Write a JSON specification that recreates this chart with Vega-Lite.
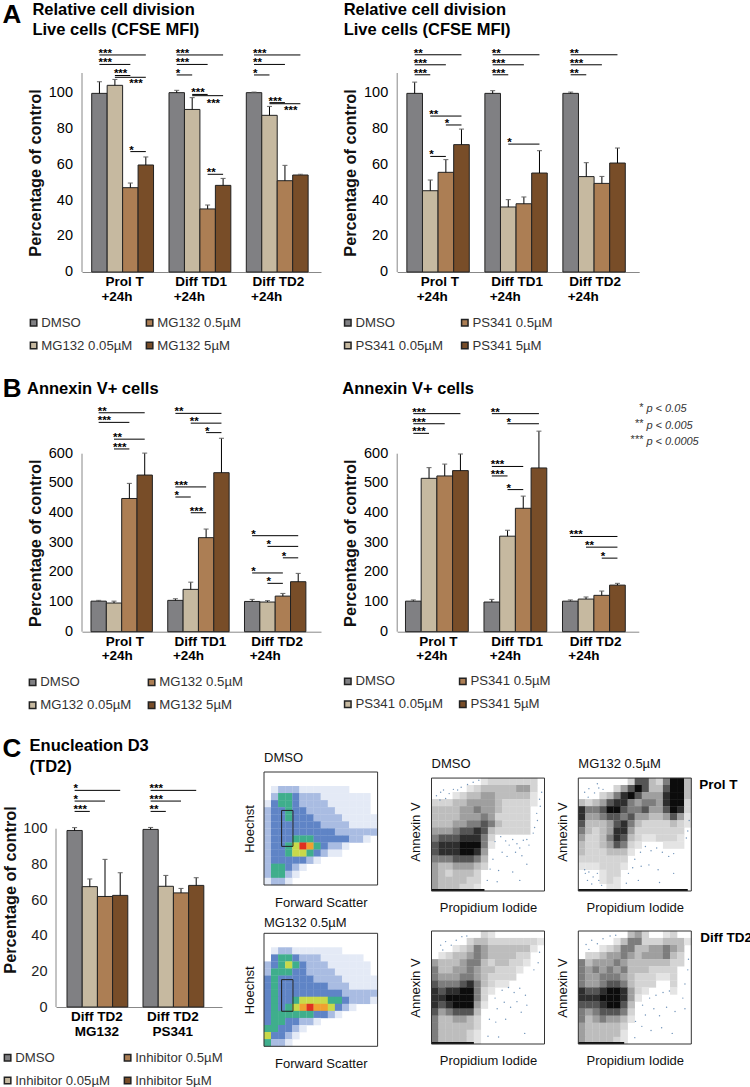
{"$schema":"https://vega.github.io/schema/vega-lite/v6.json","padding":{"left":1,"top":2,"right":0,"bottom":0},"bounds":"flush","spacing":699,"resolve":{"scale":{"color":"independent"}},
"config":{"font":"Liberation Sans","view":{"stroke":null},"axis":{"grid":false,"ticks":false,"labelOverlap":false,"labelFontSize":14.5,"labelColor":"#222","titleFontSize":16.3,"titleFontWeight":"bold","titleColor":"#111","domainColor":"#888","labelPadding":9,"titlePadding":3},"axisX":{"labels":false},"title":{"anchor":"start","frame":"group","fontSize":16.5,"fontWeight":"bold","color":"#111","lineHeight":20},"legend":{"orient":"none","columns":2,"direction":"vertical","symbolType":"square","symbolSize":42,"labelFontSize":13.2,"labelColor":"#333","labelOffset":1,"rowPadding":9,"columnPadding":10},"style":{"err":{"stroke":"#666","strokeWidth":1},"sig":{"stroke":"#555","strokeWidth":1},"star":{"fontSize":11.5,"align":"left","dx":-1,"dy":2,"baseline":"alphabetic","fontWeight":"bold","fill":"#333"},"xl":{"fontSize":13.5,"fontWeight":"bold","align":"left","baseline":"middle","fill":"#111"},"yl":{"fontSize":14.5,"align":"right","baseline":"middle","dx":-9,"fill":"#222"},"ttl":{"fontSize":16.5,"fontWeight":"bold","align":"left","baseline":"middle","fill":"#111"},"letter":{"fontSize":26,"fontWeight":"bold","align":"left","baseline":"middle","fill":"#111"},"dots":{"fill":"#222","size":2,"opacity":0.8}}},
"datasets":{
"a1":[{"s":"P0","c":"DMSO","v":100,"h":106.5},{"s":"P1","c":"MG132 0.05µM","v":104.5,"h":107.8},{"s":"P2","c":"MG132 0.5µM","v":47.2,"h":49.8},{"s":"P3","c":"MG132 5µM","v":59.9,"h":64.4},{"s":"D0","c":"DMSO","v":100.4,"h":101.7},{"s":"D1","c":"MG132 0.05µM","v":91,"h":97.6},{"s":"D2","c":"MG132 0.5µM","v":35.3,"h":37.5},{"s":"D3","c":"MG132 5µM","v":48.5,"h":52.4},{"s":"T0","c":"DMSO","v":100.4,"h":100.7},{"s":"T1","c":"MG132 0.05µM","v":87.7,"h":92.7},{"s":"T2","c":"MG132 0.5µM","v":51.1,"h":59.7},{"s":"T3","c":"MG132 5µM","v":54.3,"h":54.7}],
"a2":[{"s":"P0","c":"DMSO","v":100,"h":106.3},{"s":"P1","c":"PS341 0.05µM","v":45.5,"h":51.5},{"s":"P2","c":"PS341 0.5µM","v":55.8,"h":62.9},{"s":"P3","c":"PS341 5µM","v":71.3,"h":80},{"s":"D0","c":"DMSO","v":100,"h":101.5},{"s":"D1","c":"PS341 0.05µM","v":36.4,"h":40.5},{"s":"D2","c":"PS341 0.5µM","v":38.2,"h":42},{"s":"D3","c":"PS341 5µM","v":55.4,"h":67.9},{"s":"T0","c":"DMSO","v":100,"h":100.7},{"s":"T1","c":"PS341 0.05µM","v":53.4,"h":61.2},{"s":"T2","c":"PS341 0.5µM","v":49.6,"h":53.5},{"s":"T3","c":"PS341 5µM","v":61,"h":69.4}],
"b1":[{"s":"P0","c":"DMSO","v":103,"h":105.6},{"s":"P1","c":"MG132 0.05µM","v":96.6,"h":103},{"s":"P2","c":"MG132 0.5µM","v":449,"h":500},{"s":"P3","c":"MG132 5µM","v":528,"h":602},{"s":"D0","c":"DMSO","v":105.6,"h":111},{"s":"D1","c":"MG132 0.05µM","v":142.7,"h":167},{"s":"D2","c":"MG132 0.5µM","v":317,"h":346},{"s":"D3","c":"MG132 5µM","v":536,"h":652},{"s":"T0","c":"DMSO","v":102,"h":109},{"s":"T1","c":"MG132 0.05µM","v":100,"h":104.5},{"s":"T2","c":"MG132 0.5µM","v":120,"h":129},{"s":"T3","c":"MG132 5µM","v":168.5,"h":196.6}],
"b2":[{"s":"P0","c":"DMSO","v":103,"h":107},{"s":"P1","c":"PS341 0.05µM","v":517,"h":553},{"s":"P2","c":"PS341 0.5µM","v":525,"h":565},{"s":"P3","c":"PS341 5µM","v":543,"h":599},{"s":"D0","c":"DMSO","v":100,"h":109},{"s":"D1","c":"PS341 0.05µM","v":322,"h":342},{"s":"D2","c":"PS341 0.5µM","v":416,"h":457},{"s":"D3","c":"PS341 5µM","v":552,"h":676},{"s":"T0","c":"DMSO","v":103,"h":107},{"s":"T1","c":"PS341 0.05µM","v":110,"h":117},{"s":"T2","c":"PS341 0.5µM","v":122.5,"h":137},{"s":"T3","c":"PS341 5µM","v":157,"h":163}],
"c1":[{"s":"M0","c":"DMSO","v":99,"h":100.6},{"s":"M1","c":"Inhibitor 0.05µM","v":67.5,"h":71.8},{"s":"M2","c":"Inhibitor 0.5µM","v":62,"h":82.8},{"s":"M3","c":"Inhibitor 5µM","v":62.6,"h":75.3},{"s":"S0","c":"DMSO","v":99.6,"h":100.7},{"s":"S1","c":"Inhibitor 0.05µM","v":67.7,"h":73.8},{"s":"S2","c":"Inhibitor 0.5µM","v":64,"h":66.5},{"s":"S3","c":"Inhibitor 5µM","v":68.2,"h":72.5}],
"xl":[{"t":"P0","s":"Prol T","l":"p1"},{"t":"P0","s":"+24h","l":"p2"},{"t":"D0","s":"Diff TD1","l":"d1"},{"t":"T0","s":"Diff TD2","l":"d1"},{"t":"D0","s":"+24h","l":"d2"},{"t":"T0","s":"+24h","l":"d2"}],
"ya":[{"y":0},{"y":20},{"y":40},{"y":60},{"y":80},{"y":100}],
"yb":[{"y":0},{"y":100},{"y":200},{"y":300},{"y":400},{"y":500},{"y":600}],
"f1":[{"x":1,"y":2,"v":1},{"x":2,"y":2,"v":2},{"x":3,"y":2,"v":2},{"x":4,"y":2,"v":2},{"x":5,"y":2,"v":1},{"x":6,"y":2,"v":1},{"x":7,"y":2,"v":1},{"x":8,"y":2,"v":1},{"x":9,"y":2,"v":1},{"x":10,"y":2,"v":1},{"x":11,"y":2,"v":1},
{"x":1,"y":3,"v":2},{"x":2,"y":3,"v":4},{"x":3,"y":3,"v":4},{"x":4,"y":3,"v":3},{"x":5,"y":3,"v":2},{"x":6,"y":3,"v":2},{"x":7,"y":3,"v":2},{"x":8,"y":3,"v":1},{"x":9,"y":3,"v":1},{"x":10,"y":3,"v":1},{"x":11,"y":3,"v":1},{"x":12,"y":3,"v":1},{"x":13,"y":3,"v":1},{"x":14,"y":3,"v":1},
{"x":0,"y":4,"v":1},{"x":1,"y":4,"v":3},{"x":2,"y":4,"v":4},{"x":3,"y":4,"v":4},{"x":4,"y":4,"v":3},{"x":5,"y":4,"v":2},{"x":6,"y":4,"v":2},{"x":7,"y":4,"v":2},{"x":8,"y":4,"v":2},{"x":9,"y":4,"v":1},{"x":10,"y":4,"v":1},{"x":11,"y":4,"v":1},{"x":12,"y":4,"v":1},{"x":13,"y":4,"v":1},{"x":14,"y":4,"v":1},
{"x":0,"y":5,"v":2},{"x":1,"y":5,"v":3},{"x":2,"y":5,"v":3},{"x":3,"y":5,"v":4},{"x":4,"y":5,"v":3},{"x":5,"y":5,"v":3},{"x":6,"y":5,"v":2},{"x":7,"y":5,"v":2},{"x":8,"y":5,"v":2},{"x":9,"y":5,"v":2},{"x":10,"y":5,"v":1},{"x":11,"y":5,"v":1},{"x":12,"y":5,"v":1},{"x":13,"y":5,"v":1},{"x":14,"y":5,"v":1},
{"x":0,"y":6,"v":2},{"x":1,"y":6,"v":3},{"x":2,"y":6,"v":3},{"x":3,"y":6,"v":4},{"x":4,"y":6,"v":3},{"x":5,"y":6,"v":3},{"x":6,"y":6,"v":3},{"x":7,"y":6,"v":2},{"x":8,"y":6,"v":2},{"x":9,"y":6,"v":2},{"x":10,"y":6,"v":2},{"x":11,"y":6,"v":1},{"x":12,"y":6,"v":1},{"x":13,"y":6,"v":1},{"x":14,"y":6,"v":1},{"x":15,"y":6,"v":1},
{"x":0,"y":7,"v":2},{"x":1,"y":7,"v":3},{"x":2,"y":7,"v":3},{"x":3,"y":7,"v":3},{"x":4,"y":7,"v":3},{"x":5,"y":7,"v":3},{"x":6,"y":7,"v":3},{"x":7,"y":7,"v":3},{"x":8,"y":7,"v":2},{"x":9,"y":7,"v":2},{"x":10,"y":7,"v":2},{"x":11,"y":7,"v":2},{"x":12,"y":7,"v":1},{"x":13,"y":7,"v":1},{"x":14,"y":7,"v":1},{"x":15,"y":7,"v":1},
{"x":0,"y":8,"v":2},{"x":1,"y":8,"v":3},{"x":2,"y":8,"v":3},{"x":3,"y":8,"v":3},{"x":4,"y":8,"v":3},{"x":5,"y":8,"v":3},{"x":6,"y":8,"v":3},{"x":7,"y":8,"v":3},{"x":8,"y":8,"v":3},{"x":9,"y":8,"v":3},{"x":10,"y":8,"v":2},{"x":11,"y":8,"v":2},{"x":12,"y":8,"v":2},{"x":13,"y":8,"v":2},{"x":14,"y":8,"v":2},{"x":15,"y":8,"v":2},
{"x":0,"y":9,"v":2},{"x":1,"y":9,"v":3},{"x":2,"y":9,"v":3},{"x":3,"y":9,"v":3},{"x":4,"y":9,"v":4},{"x":5,"y":9,"v":4},{"x":6,"y":9,"v":4},{"x":7,"y":9,"v":3},{"x":8,"y":9,"v":3},{"x":9,"y":9,"v":3},{"x":10,"y":9,"v":3},{"x":11,"y":9,"v":3},{"x":12,"y":9,"v":2},{"x":13,"y":9,"v":2},{"x":14,"y":9,"v":1},
{"x":0,"y":10,"v":2},{"x":1,"y":10,"v":3},{"x":2,"y":10,"v":3},{"x":3,"y":10,"v":4},{"x":4,"y":10,"v":5},{"x":5,"y":10,"v":7},{"x":6,"y":10,"v":6},{"x":7,"y":10,"v":4},{"x":8,"y":10,"v":3},{"x":9,"y":10,"v":2},{"x":10,"y":10,"v":2},{"x":11,"y":10,"v":1},
{"x":0,"y":11,"v":2},{"x":1,"y":11,"v":3},{"x":2,"y":11,"v":3},{"x":3,"y":11,"v":4},{"x":4,"y":11,"v":5},{"x":5,"y":11,"v":5},{"x":6,"y":11,"v":4},{"x":7,"y":11,"v":3},{"x":8,"y":11,"v":2},{"x":9,"y":11,"v":1},{"x":10,"y":11,"v":1},
{"x":0,"y":12,"v":2},{"x":1,"y":12,"v":3},{"x":2,"y":12,"v":3},{"x":3,"y":12,"v":3},{"x":4,"y":12,"v":3},{"x":5,"y":12,"v":3},{"x":6,"y":12,"v":2},{"x":7,"y":12,"v":1},
{"x":0,"y":13,"v":2},{"x":1,"y":13,"v":4},{"x":2,"y":13,"v":4},{"x":3,"y":13,"v":3},{"x":4,"y":13,"v":2},{"x":5,"y":13,"v":1},
{"x":0,"y":14,"v":2},{"x":1,"y":14,"v":4},{"x":2,"y":14,"v":4},{"x":3,"y":14,"v":2},{"x":4,"y":14,"v":1},
{"x":0,"y":15,"v":1},{"x":1,"y":15,"v":2},{"x":2,"y":15,"v":2},{"x":3,"y":15,"v":1}],
"f2":[{"x":1,"y":2,"v":1},{"x":2,"y":2,"v":2},{"x":3,"y":2,"v":2},{"x":4,"y":2,"v":1},{"x":5,"y":2,"v":1},{"x":6,"y":2,"v":1},{"x":7,"y":2,"v":1},{"x":8,"y":2,"v":1},{"x":9,"y":2,"v":1},{"x":10,"y":2,"v":1},
{"x":1,"y":3,"v":3},{"x":2,"y":3,"v":4},{"x":3,"y":3,"v":4},{"x":4,"y":3,"v":3},{"x":5,"y":3,"v":2},{"x":6,"y":3,"v":2},{"x":7,"y":3,"v":2},{"x":8,"y":3,"v":1},{"x":9,"y":3,"v":1},{"x":10,"y":3,"v":1},{"x":11,"y":3,"v":1},{"x":12,"y":3,"v":1},{"x":13,"y":3,"v":1},
{"x":0,"y":4,"v":2},{"x":1,"y":4,"v":3},{"x":2,"y":4,"v":4},{"x":3,"y":4,"v":5},{"x":4,"y":4,"v":4},{"x":5,"y":4,"v":3},{"x":6,"y":4,"v":2},{"x":7,"y":4,"v":2},{"x":8,"y":4,"v":2},{"x":9,"y":4,"v":1},{"x":10,"y":4,"v":1},{"x":11,"y":4,"v":1},{"x":12,"y":4,"v":1},{"x":13,"y":4,"v":1},{"x":14,"y":4,"v":1},
{"x":0,"y":5,"v":2},{"x":1,"y":5,"v":4},{"x":2,"y":5,"v":4},{"x":3,"y":5,"v":4},{"x":4,"y":5,"v":3},{"x":5,"y":5,"v":3},{"x":6,"y":5,"v":2},{"x":7,"y":5,"v":2},{"x":8,"y":5,"v":2},{"x":9,"y":5,"v":2},{"x":10,"y":5,"v":1},{"x":11,"y":5,"v":1},{"x":12,"y":5,"v":1},{"x":13,"y":5,"v":1},{"x":14,"y":5,"v":1},
{"x":0,"y":6,"v":3},{"x":1,"y":6,"v":4},{"x":2,"y":6,"v":3},{"x":3,"y":6,"v":3},{"x":4,"y":6,"v":3},{"x":5,"y":6,"v":3},{"x":6,"y":6,"v":3},{"x":7,"y":6,"v":2},{"x":8,"y":6,"v":2},{"x":9,"y":6,"v":2},{"x":10,"y":6,"v":2},{"x":11,"y":6,"v":1},{"x":12,"y":6,"v":1},{"x":13,"y":6,"v":1},{"x":14,"y":6,"v":1},{"x":15,"y":6,"v":1},
{"x":0,"y":7,"v":3},{"x":1,"y":7,"v":4},{"x":2,"y":7,"v":3},{"x":3,"y":7,"v":3},{"x":4,"y":7,"v":3},{"x":5,"y":7,"v":3},{"x":6,"y":7,"v":3},{"x":7,"y":7,"v":3},{"x":8,"y":7,"v":3},{"x":9,"y":7,"v":2},{"x":10,"y":7,"v":2},{"x":11,"y":7,"v":2},{"x":12,"y":7,"v":1},{"x":13,"y":7,"v":1},{"x":14,"y":7,"v":1},{"x":15,"y":7,"v":1},
{"x":0,"y":8,"v":3},{"x":1,"y":8,"v":4},{"x":2,"y":8,"v":3},{"x":3,"y":8,"v":3},{"x":4,"y":8,"v":3},{"x":5,"y":8,"v":3},{"x":6,"y":8,"v":3},{"x":7,"y":8,"v":3},{"x":8,"y":8,"v":3},{"x":9,"y":8,"v":3},{"x":10,"y":8,"v":3},{"x":11,"y":8,"v":2},{"x":12,"y":8,"v":2},{"x":13,"y":8,"v":2},{"x":14,"y":8,"v":2},{"x":15,"y":8,"v":2},
{"x":0,"y":9,"v":3},{"x":1,"y":9,"v":4},{"x":2,"y":9,"v":3},{"x":3,"y":9,"v":3},{"x":4,"y":9,"v":4},{"x":5,"y":9,"v":5},{"x":6,"y":9,"v":5},{"x":7,"y":9,"v":5},{"x":8,"y":9,"v":5},{"x":9,"y":9,"v":4},{"x":10,"y":9,"v":4},{"x":11,"y":9,"v":3},{"x":12,"y":9,"v":2},{"x":13,"y":9,"v":2},{"x":14,"y":9,"v":2},{"x":15,"y":9,"v":1},
{"x":0,"y":10,"v":3},{"x":1,"y":10,"v":4},{"x":2,"y":10,"v":3},{"x":3,"y":10,"v":4},{"x":4,"y":10,"v":5},{"x":5,"y":10,"v":6},{"x":6,"y":10,"v":7},{"x":7,"y":10,"v":6},{"x":8,"y":10,"v":6},{"x":9,"y":10,"v":5},{"x":10,"y":10,"v":3},{"x":11,"y":10,"v":2},{"x":12,"y":10,"v":1},
{"x":0,"y":11,"v":3},{"x":1,"y":11,"v":4},{"x":2,"y":11,"v":4},{"x":3,"y":11,"v":4},{"x":4,"y":11,"v":4},{"x":5,"y":11,"v":4},{"x":6,"y":11,"v":4},{"x":7,"y":11,"v":3},{"x":8,"y":11,"v":3},{"x":9,"y":11,"v":2},{"x":10,"y":11,"v":1},
{"x":0,"y":12,"v":3},{"x":1,"y":12,"v":4},{"x":2,"y":12,"v":4},{"x":3,"y":12,"v":3},{"x":4,"y":12,"v":3},{"x":5,"y":12,"v":2},{"x":6,"y":12,"v":2},{"x":7,"y":12,"v":1},
{"x":0,"y":13,"v":4},{"x":1,"y":13,"v":4},{"x":2,"y":13,"v":3},{"x":3,"y":13,"v":3},{"x":4,"y":13,"v":2},{"x":5,"y":13,"v":1},
{"x":0,"y":14,"v":5},{"x":1,"y":14,"v":3},{"x":2,"y":14,"v":3},{"x":3,"y":14,"v":2},{"x":4,"y":14,"v":1},
{"x":0,"y":15,"v":4},{"x":1,"y":15,"v":2},{"x":2,"y":15,"v":2},{"x":3,"y":15,"v":1}],
"g1":[{"x":7,"y":0,"v":1},{"x":8,"y":0,"v":2},{"x":9,"y":0,"v":2},{"x":10,"y":0,"v":2},{"x":11,"y":0,"v":2},{"x":12,"y":0,"v":2},{"x":13,"y":0,"v":2},{"x":14,"y":0,"v":2},
{"x":5,"y":1,"v":1},{"x":6,"y":1,"v":2},{"x":7,"y":1,"v":3},{"x":8,"y":1,"v":3},{"x":9,"y":1,"v":3},{"x":10,"y":1,"v":3},{"x":11,"y":1,"v":3},{"x":12,"y":1,"v":4},{"x":13,"y":1,"v":4},{"x":14,"y":1,"v":2},
{"x":3,"y":2,"v":1},{"x":4,"y":2,"v":2},{"x":5,"y":2,"v":3},{"x":6,"y":2,"v":3},{"x":7,"y":2,"v":4},{"x":8,"y":2,"v":4},{"x":9,"y":2,"v":3},{"x":10,"y":2,"v":3},{"x":11,"y":2,"v":3},{"x":12,"y":2,"v":3},{"x":13,"y":2,"v":3},{"x":14,"y":2,"v":1},
{"x":0,"y":3,"v":2},{"x":1,"y":3,"v":2},{"x":2,"y":3,"v":2},{"x":3,"y":3,"v":3},{"x":4,"y":3,"v":3},{"x":5,"y":3,"v":4},{"x":6,"y":3,"v":4},{"x":7,"y":3,"v":4},{"x":8,"y":3,"v":4},{"x":9,"y":3,"v":3},{"x":10,"y":3,"v":2},{"x":11,"y":3,"v":2},{"x":12,"y":3,"v":2},{"x":13,"y":3,"v":2},{"x":14,"y":3,"v":1},
{"x":0,"y":4,"v":3},{"x":1,"y":4,"v":3},{"x":2,"y":4,"v":3},{"x":3,"y":4,"v":3},{"x":4,"y":4,"v":4},{"x":5,"y":4,"v":4},{"x":6,"y":4,"v":5},{"x":7,"y":4,"v":4},{"x":8,"y":4,"v":4},{"x":9,"y":4,"v":3},{"x":10,"y":4,"v":2},{"x":11,"y":4,"v":2},{"x":12,"y":4,"v":2},{"x":13,"y":4,"v":2},
{"x":0,"y":5,"v":3},{"x":1,"y":5,"v":3},{"x":2,"y":5,"v":3},{"x":3,"y":5,"v":3},{"x":4,"y":5,"v":4},{"x":5,"y":5,"v":4},{"x":6,"y":5,"v":4},{"x":7,"y":5,"v":5},{"x":8,"y":5,"v":4},{"x":9,"y":5,"v":2},{"x":10,"y":5,"v":2},{"x":11,"y":5,"v":2},{"x":12,"y":5,"v":2},{"x":13,"y":5,"v":2},
{"x":0,"y":6,"v":3},{"x":1,"y":6,"v":3},{"x":2,"y":6,"v":3},{"x":3,"y":6,"v":4},{"x":4,"y":6,"v":4},{"x":5,"y":6,"v":5},{"x":6,"y":6,"v":5},{"x":7,"y":6,"v":6},{"x":8,"y":6,"v":5},{"x":9,"y":6,"v":3},{"x":10,"y":6,"v":2},{"x":11,"y":6,"v":2},{"x":12,"y":6,"v":2},{"x":13,"y":6,"v":2},
{"x":0,"y":7,"v":4},{"x":1,"y":7,"v":4},{"x":2,"y":7,"v":4},{"x":3,"y":7,"v":5},{"x":4,"y":7,"v":6},{"x":5,"y":7,"v":6},{"x":6,"y":7,"v":7},{"x":7,"y":7,"v":6},{"x":8,"y":7,"v":3},{"x":9,"y":7,"v":2},{"x":10,"y":7,"v":2},{"x":11,"y":7,"v":2},{"x":12,"y":7,"v":2},{"x":13,"y":7,"v":2},
{"x":0,"y":8,"v":5},{"x":1,"y":8,"v":6},{"x":2,"y":8,"v":6},{"x":3,"y":8,"v":6},{"x":4,"y":8,"v":7},{"x":5,"y":8,"v":7},{"x":6,"y":8,"v":7},{"x":7,"y":8,"v":5},{"x":8,"y":8,"v":2},
{"x":0,"y":9,"v":6},{"x":1,"y":9,"v":7},{"x":2,"y":9,"v":7},{"x":3,"y":9,"v":7},{"x":4,"y":9,"v":8},{"x":5,"y":9,"v":8},{"x":6,"y":9,"v":8},{"x":7,"y":9,"v":5},{"x":8,"y":9,"v":1},
{"x":0,"y":10,"v":6},{"x":1,"y":10,"v":7},{"x":2,"y":10,"v":7},{"x":3,"y":10,"v":7},{"x":4,"y":10,"v":8},{"x":5,"y":10,"v":8},{"x":6,"y":10,"v":7},{"x":7,"y":10,"v":4},
{"x":0,"y":11,"v":5},{"x":1,"y":11,"v":5},{"x":2,"y":11,"v":5},{"x":3,"y":11,"v":6},{"x":4,"y":11,"v":6},{"x":5,"y":11,"v":6},{"x":6,"y":11,"v":5},{"x":7,"y":11,"v":3},
{"x":0,"y":12,"v":4},{"x":1,"y":12,"v":3},{"x":2,"y":12,"v":3},{"x":3,"y":12,"v":4},{"x":4,"y":12,"v":4},{"x":5,"y":12,"v":4},{"x":6,"y":12,"v":3},{"x":7,"y":12,"v":2},
{"x":0,"y":13,"v":4},{"x":1,"y":13,"v":3},{"x":2,"y":13,"v":2},{"x":3,"y":13,"v":3},{"x":4,"y":13,"v":3},{"x":5,"y":13,"v":3},{"x":6,"y":13,"v":2},
{"x":0,"y":14,"v":4},{"x":1,"y":14,"v":3},{"x":2,"y":14,"v":3},{"x":3,"y":14,"v":3},{"x":4,"y":14,"v":3},{"x":5,"y":14,"v":2},{"x":6,"y":14,"v":2},
{"x":0,"y":15,"v":4},{"x":1,"y":15,"v":3},{"x":2,"y":15,"v":3},{"x":3,"y":15,"v":3},{"x":4,"y":15,"v":2},{"x":5,"y":15,"v":2},{"x":6,"y":15,"v":1}],
"g2":[{"x":7,"y":0,"v":2},{"x":8,"y":0,"v":6},{"x":9,"y":0,"v":6},{"x":10,"y":0,"v":3},{"x":11,"y":0,"v":2},{"x":12,"y":0,"v":5},{"x":13,"y":0,"v":8},{"x":14,"y":0,"v":8},{"x":15,"y":0,"v":3},
{"x":5,"y":1,"v":2},{"x":6,"y":1,"v":4},{"x":7,"y":1,"v":6},{"x":8,"y":1,"v":8},{"x":9,"y":1,"v":6},{"x":10,"y":1,"v":3},{"x":11,"y":1,"v":3},{"x":12,"y":1,"v":6},{"x":13,"y":1,"v":8},{"x":14,"y":1,"v":8},{"x":15,"y":1,"v":3},
{"x":3,"y":2,"v":2},{"x":4,"y":2,"v":3},{"x":5,"y":2,"v":5},{"x":6,"y":2,"v":7},{"x":7,"y":2,"v":8},{"x":8,"y":2,"v":6},{"x":9,"y":2,"v":4},{"x":10,"y":2,"v":4},{"x":11,"y":2,"v":4},{"x":12,"y":2,"v":7},{"x":13,"y":2,"v":8},{"x":14,"y":2,"v":8},{"x":15,"y":2,"v":3},
{"x":0,"y":3,"v":3},{"x":1,"y":3,"v":2},{"x":2,"y":3,"v":3},{"x":3,"y":3,"v":4},{"x":4,"y":3,"v":6},{"x":5,"y":3,"v":7},{"x":6,"y":3,"v":7},{"x":7,"y":3,"v":5},{"x":8,"y":3,"v":4},{"x":9,"y":3,"v":5},{"x":10,"y":3,"v":5},{"x":11,"y":3,"v":4},{"x":12,"y":3,"v":7},{"x":13,"y":3,"v":8},{"x":14,"y":3,"v":8},{"x":15,"y":3,"v":2},
{"x":0,"y":4,"v":7},{"x":1,"y":4,"v":5},{"x":2,"y":4,"v":5},{"x":3,"y":4,"v":6},{"x":4,"y":4,"v":8},{"x":5,"y":4,"v":8},{"x":6,"y":4,"v":6},{"x":7,"y":4,"v":5},{"x":8,"y":4,"v":5},{"x":9,"y":4,"v":6},{"x":10,"y":4,"v":4},{"x":11,"y":4,"v":4},{"x":12,"y":4,"v":6},{"x":13,"y":4,"v":8},{"x":14,"y":4,"v":7},{"x":15,"y":4,"v":2},
{"x":0,"y":5,"v":7},{"x":1,"y":5,"v":4},{"x":2,"y":5,"v":4},{"x":3,"y":5,"v":5},{"x":4,"y":5,"v":6},{"x":5,"y":5,"v":6},{"x":6,"y":5,"v":5},{"x":7,"y":5,"v":6},{"x":8,"y":5,"v":4},{"x":9,"y":5,"v":4},{"x":10,"y":5,"v":3},{"x":11,"y":5,"v":3},{"x":12,"y":5,"v":4},{"x":13,"y":5,"v":6},{"x":14,"y":5,"v":4},{"x":15,"y":5,"v":1},
{"x":0,"y":6,"v":6},{"x":1,"y":6,"v":3},{"x":2,"y":6,"v":3},{"x":3,"y":6,"v":3},{"x":4,"y":6,"v":4},{"x":5,"y":6,"v":6},{"x":6,"y":6,"v":7},{"x":7,"y":6,"v":5},{"x":8,"y":6,"v":3},{"x":9,"y":6,"v":2},{"x":10,"y":6,"v":2},{"x":11,"y":6,"v":2},{"x":12,"y":6,"v":2},{"x":13,"y":6,"v":3},{"x":14,"y":6,"v":2},{"x":15,"y":6,"v":1},
{"x":0,"y":7,"v":5},{"x":1,"y":7,"v":3},{"x":2,"y":7,"v":2},{"x":3,"y":7,"v":3},{"x":4,"y":7,"v":4},{"x":5,"y":7,"v":7},{"x":6,"y":7,"v":7},{"x":7,"y":7,"v":4},{"x":8,"y":7,"v":2},{"x":9,"y":7,"v":2},{"x":10,"y":7,"v":2},{"x":11,"y":7,"v":2},{"x":12,"y":7,"v":2},{"x":13,"y":7,"v":2},{"x":14,"y":7,"v":2},
{"x":0,"y":8,"v":4},{"x":1,"y":8,"v":2},{"x":2,"y":8,"v":2},{"x":3,"y":8,"v":3},{"x":4,"y":8,"v":5},{"x":5,"y":8,"v":7},{"x":6,"y":8,"v":6},{"x":7,"y":8,"v":3},{"x":8,"y":8,"v":2},{"x":9,"y":8,"v":1},{"x":10,"y":8,"v":1},{"x":11,"y":8,"v":2},{"x":12,"y":8,"v":2},{"x":13,"y":8,"v":2},{"x":14,"y":8,"v":1},
{"x":0,"y":9,"v":3},{"x":1,"y":9,"v":2},{"x":2,"y":9,"v":2},{"x":3,"y":9,"v":3},{"x":4,"y":9,"v":4},{"x":5,"y":9,"v":6},{"x":6,"y":9,"v":5},{"x":7,"y":9,"v":2},{"x":8,"y":9,"v":1},{"x":12,"y":9,"v":1},{"x":13,"y":9,"v":1},{"x":14,"y":9,"v":1},
{"x":0,"y":10,"v":3},{"x":1,"y":10,"v":2},{"x":2,"y":10,"v":2},{"x":3,"y":10,"v":2},{"x":4,"y":10,"v":3},{"x":5,"y":10,"v":3},{"x":6,"y":10,"v":3},{"x":7,"y":10,"v":1},
{"x":0,"y":11,"v":2},{"x":1,"y":11,"v":2},{"x":2,"y":11,"v":2},{"x":3,"y":11,"v":2},{"x":4,"y":11,"v":2},{"x":5,"y":11,"v":2},{"x":6,"y":11,"v":2},
{"x":0,"y":12,"v":1},{"x":1,"y":12,"v":1},{"x":2,"y":12,"v":1},{"x":3,"y":12,"v":2},{"x":4,"y":12,"v":2},{"x":5,"y":12,"v":2},{"x":6,"y":12,"v":1},
{"x":3,"y":13,"v":1},{"x":4,"y":13,"v":2},{"x":5,"y":13,"v":2},
{"x":3,"y":14,"v":1},{"x":4,"y":14,"v":2},{"x":5,"y":14,"v":1},
{"x":4,"y":15,"v":1},{"x":5,"y":15,"v":1}],
"g3":[{"x":7,"y":0,"v":2},{"x":8,"y":0,"v":1},
{"x":5,"y":1,"v":2},{"x":6,"y":1,"v":3},{"x":7,"y":1,"v":3},{"x":8,"y":1,"v":2},{"x":9,"y":1,"v":2},{"x":10,"y":1,"v":2},{"x":11,"y":1,"v":2},{"x":12,"y":1,"v":2},{"x":13,"y":1,"v":2},{"x":14,"y":1,"v":2},{"x":15,"y":1,"v":1},
{"x":3,"y":2,"v":1},{"x":4,"y":2,"v":2},{"x":5,"y":2,"v":3},{"x":6,"y":2,"v":5},{"x":7,"y":2,"v":4},{"x":8,"y":2,"v":3},{"x":9,"y":2,"v":3},{"x":10,"y":2,"v":3},{"x":11,"y":2,"v":3},{"x":12,"y":2,"v":3},{"x":13,"y":2,"v":3},{"x":14,"y":2,"v":1},
{"x":1,"y":3,"v":1},{"x":2,"y":3,"v":2},{"x":3,"y":3,"v":3},{"x":4,"y":3,"v":3},{"x":5,"y":3,"v":4},{"x":6,"y":3,"v":5},{"x":7,"y":3,"v":4},{"x":8,"y":3,"v":3},{"x":9,"y":3,"v":3},{"x":10,"y":3,"v":3},{"x":11,"y":3,"v":3},{"x":12,"y":3,"v":2},{"x":13,"y":3,"v":2},
{"x":0,"y":4,"v":4},{"x":1,"y":4,"v":3},{"x":2,"y":4,"v":3},{"x":3,"y":4,"v":3},{"x":4,"y":4,"v":4},{"x":5,"y":4,"v":5},{"x":6,"y":4,"v":5},{"x":7,"y":4,"v":3},{"x":8,"y":4,"v":2},{"x":9,"y":4,"v":3},{"x":10,"y":4,"v":3},{"x":11,"y":4,"v":2},{"x":12,"y":4,"v":2},{"x":13,"y":4,"v":1},
{"x":0,"y":5,"v":5},{"x":1,"y":5,"v":3},{"x":2,"y":5,"v":3},{"x":3,"y":5,"v":4},{"x":4,"y":5,"v":4},{"x":5,"y":5,"v":5},{"x":6,"y":5,"v":4},{"x":7,"y":5,"v":3},{"x":8,"y":5,"v":3},{"x":9,"y":5,"v":2},{"x":10,"y":5,"v":2},{"x":11,"y":5,"v":2},{"x":12,"y":5,"v":1},
{"x":0,"y":6,"v":5},{"x":1,"y":6,"v":4},{"x":2,"y":6,"v":4},{"x":3,"y":6,"v":4},{"x":4,"y":6,"v":5},{"x":5,"y":6,"v":5},{"x":6,"y":6,"v":4},{"x":7,"y":6,"v":3},{"x":8,"y":6,"v":2},{"x":9,"y":6,"v":2},{"x":10,"y":6,"v":2},{"x":11,"y":6,"v":2},
{"x":0,"y":7,"v":6},{"x":1,"y":7,"v":5},{"x":2,"y":7,"v":5},{"x":3,"y":7,"v":5},{"x":4,"y":7,"v":6},{"x":5,"y":7,"v":7},{"x":6,"y":7,"v":5},{"x":7,"y":7,"v":3},{"x":8,"y":7,"v":2},{"x":9,"y":7,"v":1},{"x":10,"y":7,"v":1},
{"x":0,"y":8,"v":7},{"x":1,"y":8,"v":6},{"x":2,"y":8,"v":7},{"x":3,"y":8,"v":7},{"x":4,"y":8,"v":8},{"x":5,"y":8,"v":8},{"x":6,"y":8,"v":5},{"x":7,"y":8,"v":2},{"x":8,"y":8,"v":1},
{"x":0,"y":9,"v":7},{"x":1,"y":9,"v":7},{"x":2,"y":9,"v":8},{"x":3,"y":9,"v":8},{"x":4,"y":9,"v":8},{"x":5,"y":9,"v":8},{"x":6,"y":9,"v":5},{"x":7,"y":9,"v":2},
{"x":0,"y":10,"v":7},{"x":1,"y":10,"v":6},{"x":2,"y":10,"v":7},{"x":3,"y":10,"v":8},{"x":4,"y":10,"v":8},{"x":5,"y":10,"v":8},{"x":6,"y":10,"v":4},{"x":7,"y":10,"v":1},
{"x":0,"y":11,"v":6},{"x":1,"y":11,"v":4},{"x":2,"y":11,"v":5},{"x":3,"y":11,"v":6},{"x":4,"y":11,"v":6},{"x":5,"y":11,"v":6},{"x":6,"y":11,"v":3},
{"x":0,"y":12,"v":5},{"x":1,"y":12,"v":3},{"x":2,"y":12,"v":3},{"x":3,"y":12,"v":4},{"x":4,"y":12,"v":4},{"x":5,"y":12,"v":3},{"x":6,"y":12,"v":2},
{"x":0,"y":13,"v":5},{"x":1,"y":13,"v":3},{"x":2,"y":13,"v":3},{"x":3,"y":13,"v":3},{"x":4,"y":13,"v":3},{"x":5,"y":13,"v":3},{"x":6,"y":13,"v":2},
{"x":0,"y":14,"v":5},{"x":1,"y":14,"v":3},{"x":2,"y":14,"v":3},{"x":3,"y":14,"v":3},{"x":4,"y":14,"v":3},{"x":5,"y":14,"v":2},{"x":6,"y":14,"v":1},
{"x":0,"y":15,"v":5},{"x":1,"y":15,"v":3},{"x":2,"y":15,"v":3},{"x":3,"y":15,"v":3},{"x":4,"y":15,"v":3},{"x":5,"y":15,"v":2},{"x":6,"y":15,"v":1}],
"g4":[{"x":7,"y":0,"v":3},{"x":8,"y":0,"v":4},{"x":9,"y":0,"v":2},{"x":12,"y":0,"v":1},{"x":13,"y":0,"v":2},
{"x":5,"y":1,"v":1},{"x":6,"y":1,"v":3},{"x":7,"y":1,"v":5},{"x":8,"y":1,"v":5},{"x":9,"y":1,"v":2},{"x":10,"y":1,"v":2},{"x":11,"y":1,"v":2},{"x":12,"y":1,"v":3},{"x":13,"y":1,"v":3},{"x":14,"y":1,"v":3},{"x":15,"y":1,"v":1},
{"x":3,"y":2,"v":1},{"x":4,"y":2,"v":2},{"x":5,"y":2,"v":3},{"x":6,"y":2,"v":5},{"x":7,"y":2,"v":5},{"x":8,"y":2,"v":3},{"x":9,"y":2,"v":3},{"x":10,"y":2,"v":4},{"x":11,"y":2,"v":4},{"x":12,"y":2,"v":5},{"x":13,"y":2,"v":4},{"x":14,"y":2,"v":3},
{"x":1,"y":3,"v":2},{"x":2,"y":3,"v":2},{"x":3,"y":3,"v":3},{"x":4,"y":3,"v":4},{"x":5,"y":3,"v":4},{"x":6,"y":3,"v":5},{"x":7,"y":3,"v":4},{"x":8,"y":3,"v":3},{"x":9,"y":3,"v":4},{"x":10,"y":3,"v":4},{"x":11,"y":3,"v":4},{"x":12,"y":3,"v":5},{"x":13,"y":3,"v":3},{"x":14,"y":3,"v":2},
{"x":0,"y":4,"v":5},{"x":1,"y":4,"v":3},{"x":2,"y":4,"v":4},{"x":3,"y":4,"v":4},{"x":4,"y":4,"v":4},{"x":5,"y":4,"v":5},{"x":6,"y":4,"v":4},{"x":7,"y":4,"v":3},{"x":8,"y":4,"v":3},{"x":9,"y":4,"v":3},{"x":10,"y":4,"v":3},{"x":11,"y":4,"v":3},{"x":12,"y":4,"v":3},{"x":13,"y":4,"v":2},{"x":14,"y":4,"v":2},
{"x":0,"y":5,"v":5},{"x":1,"y":5,"v":4},{"x":2,"y":5,"v":5},{"x":3,"y":5,"v":4},{"x":4,"y":5,"v":5},{"x":5,"y":5,"v":4},{"x":6,"y":5,"v":5},{"x":7,"y":5,"v":3},{"x":8,"y":5,"v":3},{"x":9,"y":5,"v":3},{"x":10,"y":5,"v":2},{"x":11,"y":5,"v":2},{"x":12,"y":5,"v":2},{"x":13,"y":5,"v":2},
{"x":0,"y":6,"v":5},{"x":1,"y":6,"v":4},{"x":2,"y":6,"v":4},{"x":3,"y":6,"v":5},{"x":4,"y":6,"v":5},{"x":5,"y":6,"v":5},{"x":6,"y":6,"v":4},{"x":7,"y":6,"v":3},{"x":8,"y":6,"v":2},{"x":9,"y":6,"v":2},{"x":10,"y":6,"v":2},{"x":11,"y":6,"v":1},{"x":12,"y":6,"v":1},{"x":13,"y":6,"v":2},
{"x":0,"y":7,"v":5},{"x":1,"y":7,"v":4},{"x":2,"y":7,"v":4},{"x":3,"y":7,"v":5},{"x":4,"y":7,"v":6},{"x":5,"y":7,"v":6},{"x":6,"y":7,"v":5},{"x":7,"y":7,"v":3},{"x":8,"y":7,"v":2},{"x":9,"y":7,"v":2},{"x":10,"y":7,"v":2},{"x":13,"y":7,"v":2},
{"x":0,"y":8,"v":7},{"x":1,"y":8,"v":6},{"x":2,"y":8,"v":6},{"x":3,"y":8,"v":7},{"x":4,"y":8,"v":8},{"x":5,"y":8,"v":8},{"x":6,"y":8,"v":7},{"x":7,"y":8,"v":4},{"x":8,"y":8,"v":2},{"x":9,"y":8,"v":1},{"x":13,"y":8,"v":1},
{"x":0,"y":9,"v":7},{"x":1,"y":9,"v":7},{"x":2,"y":9,"v":7},{"x":3,"y":9,"v":8},{"x":4,"y":9,"v":8},{"x":5,"y":9,"v":8},{"x":6,"y":9,"v":7},{"x":7,"y":9,"v":4},{"x":8,"y":9,"v":1},
{"x":0,"y":10,"v":6},{"x":1,"y":10,"v":6},{"x":2,"y":10,"v":6},{"x":3,"y":10,"v":7},{"x":4,"y":10,"v":8},{"x":5,"y":10,"v":8},{"x":6,"y":10,"v":6},{"x":7,"y":10,"v":3},
{"x":0,"y":11,"v":5},{"x":1,"y":11,"v":4},{"x":2,"y":11,"v":5},{"x":3,"y":11,"v":6},{"x":4,"y":11,"v":6},{"x":5,"y":11,"v":6},{"x":6,"y":11,"v":5},{"x":7,"y":11,"v":2},
{"x":0,"y":12,"v":5},{"x":1,"y":12,"v":3},{"x":2,"y":12,"v":4},{"x":3,"y":12,"v":5},{"x":4,"y":12,"v":4},{"x":5,"y":12,"v":4},{"x":6,"y":12,"v":3},{"x":7,"y":12,"v":1},
{"x":0,"y":13,"v":4},{"x":1,"y":13,"v":3},{"x":2,"y":13,"v":3},{"x":3,"y":13,"v":3},{"x":4,"y":13,"v":3},{"x":5,"y":13,"v":3},{"x":6,"y":13,"v":2},
{"x":0,"y":14,"v":4},{"x":1,"y":14,"v":3},{"x":2,"y":14,"v":3},{"x":3,"y":14,"v":3},{"x":4,"y":14,"v":3},{"x":5,"y":14,"v":3},{"x":6,"y":14,"v":1},
{"x":0,"y":15,"v":4},{"x":1,"y":15,"v":3},{"x":2,"y":15,"v":3},{"x":3,"y":15,"v":3},{"x":4,"y":15,"v":3},{"x":5,"y":15,"v":2},{"x":6,"y":15,"v":1}],
"d1":[{"x":0.2,"y":2},{"x":0.8,"y":1.5},{"x":1.5,"y":2.4},{"x":2,"y":1.7},{"x":2.6,"y":1.1},{"x":3.2,"y":1.2},{"x":3.7,"y":0.8},{"x":0.7,"y":2.6},{"x":1.2,"y":1.2},{"x":4.6,"y":0.4},{"x":5.4,"y":0.1},{"x":6.2,"y":-0.2},{"x":14.8,"y":2.5},{"x":15.1,"y":1.5},{"x":14.9,"y":3.5},{"x":14.4,"y":4.5},{"x":14.5,"y":5.5},{"x":14.1,"y":6.5},{"x":13.9,"y":7.3},{"x":8.5,"y":8.5},{"x":9.3,"y":7.8},{"x":10,"y":8.4},{"x":10.5,"y":9},{"x":11,"y":8.2},{"x":11.6,"y":8.8},{"x":12,"y":9.4},{"x":12.5,"y":8.3},{"x":13,"y":8.2},{"x":13.3,"y":9},{"x":9.5,"y":10},{"x":10.2,"y":10.6},{"x":11.4,"y":10},{"x":12.3,"y":10.5},{"x":8.2,"y":11},{"x":7.8,"y":12.4},{"x":9,"y":12.6},{"x":11,"y":12.8},{"x":13,"y":11.7},{"x":7.4,"y":14},{"x":8.8,"y":14.2},{"x":12,"y":14}],
"d2":[{"x":0.4,"y":1.5},{"x":1,"y":1},{"x":1.8,"y":1.6},{"x":2.4,"y":0.9},{"x":3,"y":1.1},{"x":0.9,"y":2.2},{"x":2.2,"y":0.3},{"x":0.5,"y":13},{"x":1,"y":12.8},{"x":1.6,"y":13.5},{"x":2.2,"y":13},{"x":0.8,"y":14},{"x":1.4,"y":14.5},{"x":2.4,"y":14},{"x":0.4,"y":12.5},{"x":2.8,"y":14.7},{"x":15.2,"y":5.5},{"x":15,"y":7},{"x":14.8,"y":8},{"x":7.5,"y":11},{"x":8.3,"y":10},{"x":9,"y":9.2},{"x":9.8,"y":9.8},{"x":10.6,"y":9.4},{"x":11.4,"y":10},{"x":12.3,"y":10.6},{"x":13,"y":10.2},{"x":6.6,"y":13},{"x":7.2,"y":12.2},{"x":8.4,"y":12},{"x":9.5,"y":11.8},{"x":10.8,"y":12.5},{"x":6.3,"y":14.4},{"x":8,"y":14},{"x":11,"y":14.3},{"x":13,"y":13}],
"d3":[{"x":0.8,"y":1.5},{"x":1.5,"y":1},{"x":2.3,"y":1.5},{"x":3,"y":0.8},{"x":1.1,"y":2.2},{"x":3.8,"y":0.3},{"x":4.5,"y":0.2},{"x":14.8,"y":2.5},{"x":14.6,"y":4},{"x":14,"y":5},{"x":8.5,"y":9},{"x":9.5,"y":7.9},{"x":10.4,"y":7.5},{"x":11.2,"y":8.2},{"x":12,"y":7.6},{"x":12.8,"y":8.6},{"x":8.8,"y":10.5},{"x":9.8,"y":9.6},{"x":10.7,"y":10.3},{"x":11.6,"y":9.5},{"x":12.2,"y":11},{"x":7.7,"y":12},{"x":8.6,"y":12.4},{"x":10,"y":12},{"x":13,"y":10},{"x":7.5,"y":14.4},{"x":9,"y":14.5},{"x":12.7,"y":14}],
"d4":[{"x":0.6,"y":1.4},{"x":1.4,"y":0.8},{"x":2.2,"y":1.3},{"x":3,"y":0.6},{"x":1,"y":2.1},{"x":4,"y":0.2},{"x":4.8,"y":0.1},{"x":15.1,"y":3.5},{"x":15,"y":5},{"x":14.6,"y":7},{"x":14.3,"y":9},{"x":14.6,"y":10.5},{"x":8.6,"y":10},{"x":9.6,"y":9},{"x":10.5,"y":8.6},{"x":11.5,"y":8.2},{"x":12.4,"y":8},{"x":9,"y":11.4},{"x":10.2,"y":10.5},{"x":11,"y":11.5},{"x":12,"y":10.3},{"x":13.2,"y":10.9},{"x":7.6,"y":12.3},{"x":8.5,"y":13},{"x":9.8,"y":13.6},{"x":11.3,"y":13.2},{"x":7.5,"y":14.6},{"x":12.8,"y":14}]
},
"vconcat":[
{"bounds":"flush","spacing":0,"resolve":{"scale":{"color":"independent"}},"hconcat":[
 {"data":{"values":[{}]},"width":25.8,"height":1,"mark":{"type":"rule","opacity":0},"encoding":{}},
 {"bounds":"flush","spacing":380.7,"resolve":{"scale":{"color":"independent"}},"vconcat":[
  {"bounds":"flush","spacing":76.2,"resolve":{"scale":{"color":"independent"}},"hconcat":[
   {"width":239,"height":199,"layer":[
    {"data":{"name":"a1"},"mark":{"type":"bar","stroke":"#222","strokeWidth":1},"encoding":{"x":{"field":"s","type":"nominal","scale":{"domain":["P0","P1","P2","P3","g1","D0","D1","D2","D3","g2","T0","T1","T2","T3"],"paddingInner":0,"paddingOuter":0.73,"align":0.43},"axis":{"title":null}},"y":{"field":"v","type":"quantitative","scale":{"domain":[0,111.4],"nice":false},"axis":{"title":"Percentage of control","labels":false,"domain":false,"titlePadding":38.5}},"color":{"field":"c","type":"nominal","title":null,"scale":{"domain":["DMSO","MG132 0.05µM","MG132 0.5µM","MG132 5µM"],"range":["#808083","#c6b9a0","#ac7e54","#784d28"]},"legend":{"legendX":-55,"legendY":243}}}},
    {"data":{"name":"ya"},"mark":{"type":"text","style":"yl"},"encoding":{"x":{"value":0},"y":{"field":"y","type":"quantitative"},"text":{"field":"y"}}},
    {"data":{"values":[{"a":0,"b":111.4}]},"mark":{"type":"rule","stroke":"#888"},"encoding":{"x":{"value":0},"y":{"field":"a","type":"quantitative"},"y2":{"field":"b"}}},
    {"data":{"name":"a1"},"mark":{"type":"rule","style":"err"},"encoding":{"x":{"field":"s","type":"nominal"},"y":{"field":"v","type":"quantitative"},"y2":{"field":"h"}}},
    {"data":{"name":"a1"},"mark":{"type":"point","shape":"M-1,0L1,0","size":25,"filled":false,"stroke":"#666","strokeWidth":1,"opacity":1},"encoding":{"x":{"field":"s","type":"nominal"},"y":{"field":"h","type":"quantitative"}}},
    {"data":{"values":[{"a":"P0","b":"P3","y":121.5},{"a":"P0","b":"P2","y":116.2},{"a":"P1","b":"P2","y":110},{"a":"P1","b":"P3","y":109},{"a":"P2","b":"P3","y":67.4},{"a":"D0","b":"D3","y":121.5},{"a":"D0","b":"D2","y":116.2},{"a":"D0","b":"D1","y":110.3},{"a":"D1","b":"D2","y":99.4},{"a":"D1","b":"D3","y":98.7},{"a":"D2","b":"D3","y":54.7},{"a":"T0","b":"T3","y":121.5},{"a":"T0","b":"T2","y":116.2},{"a":"T0","b":"T1","y":110.3},{"a":"T1","b":"T2","y":94.8},{"a":"T1","b":"T3","y":94.2}]},"mark":{"type":"rule","style":"sig"},"encoding":{"x":{"field":"a","type":"nominal"},"x2":{"field":"b"},"y":{"field":"y","type":"quantitative"}}},
    {"data":{"values":[{"t":"P0","y":121.5,"s":"***"},{"t":"P0","y":116.2,"s":"***"},{"t":"P1","y":110.5,"s":"***"},{"t":"P2","y":104.7,"s":"***"},{"t":"P2","y":67.4,"s":"*"},{"t":"D0","y":121.5,"s":"***"},{"t":"D0","y":116.2,"s":"***"},{"t":"D0","y":110.3,"s":"*"},{"t":"D1","y":99.4,"s":"***"},{"t":"D2","y":93.5,"s":"***"},{"t":"D2","y":54.7,"s":"**"},{"t":"T0","y":121.5,"s":"***"},{"t":"T0","y":116.2,"s":"**"},{"t":"T0","y":110.3,"s":"*"},{"t":"T1","y":94.8,"s":"***"},{"t":"T2","y":89.3,"s":"***"}]},"mark":{"type":"text","style":"star"},"encoding":{"x":{"field":"t","type":"nominal"},"y":{"field":"y","type":"quantitative"},"text":{"field":"s"}}},
    {"data":{"name":"xl"},"transform":[{"filter":"datum.l=='p1'"}],"mark":{"type":"text","style":"xl","dx":6,"dy":10},"encoding":{"x":{"field":"t","type":"nominal"},"y":{"datum":0},"text":{"field":"s"}}},
    {"data":{"name":"xl"},"transform":[{"filter":"datum.l=='p2'"}],"mark":{"type":"text","style":"xl","dx":2,"dy":24.5},"encoding":{"x":{"field":"t","type":"nominal"},"y":{"datum":0},"text":{"field":"s"}}},
    {"data":{"name":"xl"},"transform":[{"filter":"datum.l=='d1'"}],"mark":{"type":"text","style":"xl","dx":-1.5,"dy":10},"encoding":{"x":{"field":"t","type":"nominal"},"y":{"datum":0},"text":{"field":"s"}}},
    {"data":{"name":"xl"},"transform":[{"filter":"datum.l=='d2'"}],"mark":{"type":"text","style":"xl","dx":-3,"dy":24.5},"encoding":{"x":{"field":"t","type":"nominal"},"y":{"datum":0},"text":{"field":"s"}}},
    {"data":{"values":[{"t":"P0","y":146.6,"s":"Relative cell division"},{"t":"P0","y":135.4,"s":"Live cells (CFSE MFI)"}]},"mark":{"type":"text","style":"ttl","dx":-67},"encoding":{"x":{"field":"t","type":"nominal"},"y":{"field":"y","type":"quantitative"},"text":{"field":"s"}}},
    {"data":{"values":[{"t":"P0","y":143.8,"s":"A"}]},"mark":{"type":"text","style":"letter","dx":-97},"encoding":{"x":{"field":"t","type":"nominal"},"y":{"field":"y","type":"quantitative"},"text":{"field":"s"}}}
   ]},
   {"width":242,"height":199,"layer":[
    {"data":{"name":"a2"},"mark":{"type":"bar","stroke":"#222","strokeWidth":1},"encoding":{"x":{"field":"s","type":"nominal","scale":{"domain":["P0","P1","P2","P3","g1","D0","D1","D2","D3","g2","T0","T1","T2","T3"],"paddingInner":0,"paddingOuter":0.756,"align":0.41},"axis":{"title":null}},"y":{"field":"v","type":"quantitative","scale":{"domain":[0,111.4],"nice":false},"axis":{"title":"Percentage of control","labels":false,"domain":false,"titlePadding":38.5}},"color":{"field":"c","type":"nominal","title":null,"scale":{"domain":["DMSO","PS341 0.05µM","PS341 0.5µM","PS341 5µM"],"range":["#808083","#c6b9a0","#ac7e54","#784d28"]},"legend":{"legendX":-56,"legendY":243,"columnPadding":15}}}},
    {"data":{"name":"ya"},"mark":{"type":"text","style":"yl"},"encoding":{"x":{"value":0},"y":{"field":"y","type":"quantitative"},"text":{"field":"y"}}},
    {"data":{"values":[{"a":0,"b":111.4}]},"mark":{"type":"rule","stroke":"#888"},"encoding":{"x":{"value":0},"y":{"field":"a","type":"quantitative"},"y2":{"field":"b"}}},
    {"data":{"name":"a2"},"mark":{"type":"rule","style":"err"},"encoding":{"x":{"field":"s","type":"nominal"},"y":{"field":"v","type":"quantitative"},"y2":{"field":"h"}}},
    {"data":{"name":"a2"},"mark":{"type":"point","shape":"M-1,0L1,0","size":25,"filled":false,"stroke":"#666","strokeWidth":1,"opacity":1},"encoding":{"x":{"field":"s","type":"nominal"},"y":{"field":"h","type":"quantitative"}}},
    {"data":{"values":[{"a":"P0","b":"P3","y":121.6},{"a":"P0","b":"P2","y":116},{"a":"P0","b":"P1","y":110.4},{"a":"P1","b":"P3","y":87.3},{"a":"P2","b":"P3","y":82.3},{"a":"P1","b":"P2","y":64.7},{"a":"D0","b":"D3","y":121.6},{"a":"D0","b":"D2","y":116},{"a":"D0","b":"D1","y":110.4},{"a":"D1","b":"D3","y":71.6},{"a":"T0","b":"T3","y":121.6},{"a":"T0","b":"T2","y":116},{"a":"T0","b":"T1","y":110.4}]},"mark":{"type":"rule","style":"sig"},"encoding":{"x":{"field":"a","type":"nominal"},"x2":{"field":"b"},"y":{"field":"y","type":"quantitative"}}},
    {"data":{"values":[{"t":"P0","y":121.6,"s":"**"},{"t":"P0","y":116,"s":"***"},{"t":"P0","y":110.4,"s":"***"},{"t":"P1","y":87.3,"s":"**"},{"t":"P2","y":82.3,"s":"*"},{"t":"P1","y":64.7,"s":"*"},{"t":"D0","y":121.6,"s":"**"},{"t":"D0","y":116,"s":"***"},{"t":"D0","y":110.4,"s":"***"},{"t":"D1","y":71.6,"s":"*"},{"t":"T0","y":121.6,"s":"**"},{"t":"T0","y":116,"s":"***"},{"t":"T0","y":110.4,"s":"**"}]},"mark":{"type":"text","style":"star"},"encoding":{"x":{"field":"t","type":"nominal"},"y":{"field":"y","type":"quantitative"},"text":{"field":"s"}}},
    {"data":{"name":"xl"},"transform":[{"filter":"datum.l=='p1'"}],"mark":{"type":"text","style":"xl","dx":6,"dy":10},"encoding":{"x":{"field":"t","type":"nominal"},"y":{"datum":0},"text":{"field":"s"}}},
    {"data":{"name":"xl"},"transform":[{"filter":"datum.l=='p2'"}],"mark":{"type":"text","style":"xl","dx":2,"dy":24.5},"encoding":{"x":{"field":"t","type":"nominal"},"y":{"datum":0},"text":{"field":"s"}}},
    {"data":{"name":"xl"},"transform":[{"filter":"datum.l=='d1'"}],"mark":{"type":"text","style":"xl","dx":-1.5,"dy":10},"encoding":{"x":{"field":"t","type":"nominal"},"y":{"datum":0},"text":{"field":"s"}}},
    {"data":{"name":"xl"},"transform":[{"filter":"datum.l=='d2'"}],"mark":{"type":"text","style":"xl","dx":-3,"dy":24.5},"encoding":{"x":{"field":"t","type":"nominal"},"y":{"datum":0},"text":{"field":"s"}}},
    {"data":{"values":[{"t":"P0","y":146.6,"s":"Relative cell division"},{"t":"P0","y":135.4,"s":"Live cells (CFSE MFI)"}]},"mark":{"type":"text","style":"ttl","dx":-71},"encoding":{"x":{"field":"t","type":"nominal"},"y":{"field":"y","type":"quantitative"},"text":{"field":"s"}}}
   ]}
  ]},
  {"bounds":"flush","spacing":76.2,"resolve":{"scale":{"color":"independent"}},"hconcat":[
   {"width":239,"height":178,"layer":[
    {"data":{"name":"b1"},"mark":{"type":"bar","stroke":"#222","strokeWidth":1},"encoding":{"x":{"field":"s","type":"nominal","scale":{"domain":["P0","P1","P2","P3","g1","D0","D1","D2","D3","g2","T0","T1","T2","T3"],"paddingInner":0,"paddingOuter":0.785,"align":0.373},"axis":{"title":null}},"y":{"field":"v","type":"quantitative","scale":{"domain":[0,600],"nice":false},"axis":{"title":"Percentage of control","labels":false,"domain":false,"titlePadding":38.5}},"color":{"field":"c","type":"nominal","title":null,"scale":{"domain":["DMSO","MG132 0.05µM","MG132 0.5µM","MG132 5µM"],"range":["#808083","#c6b9a0","#ac7e54","#784d28"]},"legend":{"legendX":-56,"legendY":222,"columnPadding":13}}}},
    {"data":{"name":"yb"},"mark":{"type":"text","style":"yl"},"encoding":{"x":{"value":0},"y":{"field":"y","type":"quantitative"},"text":{"field":"y"}}},
    {"data":{"values":[{"a":0,"b":600}]},"mark":{"type":"rule","stroke":"#888"},"encoding":{"x":{"value":0},"y":{"field":"a","type":"quantitative"},"y2":{"field":"b"}}},
    {"data":{"name":"b1"},"mark":{"type":"rule","style":"err"},"encoding":{"x":{"field":"s","type":"nominal"},"y":{"field":"v","type":"quantitative"},"y2":{"field":"h"}}},
    {"data":{"name":"b1"},"mark":{"type":"point","shape":"M-1,0L1,0","size":25,"filled":false,"stroke":"#666","strokeWidth":1,"opacity":1},"encoding":{"x":{"field":"s","type":"nominal"},"y":{"field":"h","type":"quantitative"}}},
    {"data":{"values":[{"a":"P0","b":"P3","y":738},{"a":"P0","b":"P2","y":705.6},{"a":"P1","b":"P3","y":649},{"a":"P1","b":"P2","y":616},{"a":"D0","b":"D3","y":736},{"a":"D1","b":"D3","y":703},{"a":"D2","b":"D3","y":671},{"a":"D0","b":"D2","y":488},{"a":"D0","b":"D1","y":454},{"a":"D1","b":"D2","y":401},{"a":"T0","b":"T3","y":323.6},{"a":"T1","b":"T3","y":287.6},{"a":"T2","b":"T3","y":249},{"a":"T0","b":"T2","y":198},{"a":"T1","b":"T2","y":163}]},"mark":{"type":"rule","style":"sig"},"encoding":{"x":{"field":"a","type":"nominal"},"x2":{"field":"b"},"y":{"field":"y","type":"quantitative"}}},
    {"data":{"values":[{"t":"P0","y":738,"s":"**"},{"t":"P0","y":705.6,"s":"***"},{"t":"P1","y":649,"s":"**"},{"t":"P1","y":616,"s":"***"},{"t":"D0","y":736,"s":"**"},{"t":"D1","y":703,"s":"**"},{"t":"D2","y":671,"s":"*"},{"t":"D0","y":488,"s":"***"},{"t":"D0","y":454,"s":"*"},{"t":"D1","y":401,"s":"***"},{"t":"T0","y":323.6,"s":"*"},{"t":"T1","y":287.6,"s":"*"},{"t":"T2","y":249,"s":"*"},{"t":"T0","y":198,"s":"*"},{"t":"T1","y":163,"s":"*"}]},"mark":{"type":"text","style":"star"},"encoding":{"x":{"field":"t","type":"nominal"},"y":{"field":"y","type":"quantitative"},"text":{"field":"s"}}},
    {"data":{"name":"xl"},"transform":[{"filter":"datum.l=='p1'"}],"mark":{"type":"text","style":"xl","dx":7,"dy":10},"encoding":{"x":{"field":"t","type":"nominal"},"y":{"datum":0},"text":{"field":"s"}}},
    {"data":{"name":"xl"},"transform":[{"filter":"datum.l=='p2'"}],"mark":{"type":"text","style":"xl","dx":3,"dy":24.5},"encoding":{"x":{"field":"t","type":"nominal"},"y":{"datum":0},"text":{"field":"s"}}},
    {"data":{"name":"xl"},"transform":[{"filter":"datum.l=='d1'"}],"mark":{"type":"text","style":"xl","dx":-1,"dy":10},"encoding":{"x":{"field":"t","type":"nominal"},"y":{"datum":0},"text":{"field":"s"}}},
    {"data":{"name":"xl"},"transform":[{"filter":"datum.l=='d2'"}],"mark":{"type":"text","style":"xl","dx":-2.5,"dy":24.5},"encoding":{"x":{"field":"t","type":"nominal"},"y":{"datum":0},"text":{"field":"s"}}},
    {"data":{"values":[{"t":"P0","y":818,"s":"Annexin V+ cells"}]},"mark":{"type":"text","style":"ttl","dx":-71.7},"encoding":{"x":{"field":"t","type":"nominal"},"y":{"field":"y","type":"quantitative"},"text":{"field":"s"}}},
    {"data":{"values":[{"t":"P0","y":818,"s":"B"}]},"mark":{"type":"text","style":"letter","dx":-96},"encoding":{"x":{"field":"t","type":"nominal"},"y":{"field":"y","type":"quantitative"},"text":{"field":"s"}}}
   ]},
   {"width":241.6,"height":178,"layer":[
    {"data":{"name":"b2"},"mark":{"type":"bar","stroke":"#222","strokeWidth":1},"encoding":{"x":{"field":"s","type":"nominal","scale":{"domain":["P0","P1","P2","P3","g1","D0","D1","D2","D3","g2","T0","T1","T2","T3"],"paddingInner":0,"paddingOuter":0.694,"align":0.38},"axis":{"title":null}},"y":{"field":"v","type":"quantitative","scale":{"domain":[0,600],"nice":false},"axis":{"title":"Percentage of control","labels":false,"domain":false,"titlePadding":38.5}},"color":{"field":"c","type":"nominal","title":null,"scale":{"domain":["DMSO","PS341 0.05µM","PS341 0.5µM","PS341 5µM"],"range":["#808083","#c6b9a0","#ac7e54","#784d28"]},"legend":{"legendX":-56,"legendY":221,"columnPadding":13}}}},
    {"data":{"name":"yb"},"mark":{"type":"text","style":"yl"},"encoding":{"x":{"value":0},"y":{"field":"y","type":"quantitative"},"text":{"field":"y"}}},
    {"data":{"values":[{"a":0,"b":600}]},"mark":{"type":"rule","stroke":"#888"},"encoding":{"x":{"value":0},"y":{"field":"a","type":"quantitative"},"y2":{"field":"b"}}},
    {"data":{"name":"b2"},"mark":{"type":"rule","style":"err"},"encoding":{"x":{"field":"s","type":"nominal"},"y":{"field":"v","type":"quantitative"},"y2":{"field":"h"}}},
    {"data":{"name":"b2"},"mark":{"type":"point","shape":"M-1,0L1,0","size":25,"filled":false,"stroke":"#666","strokeWidth":1,"opacity":1},"encoding":{"x":{"field":"s","type":"nominal"},"y":{"field":"h","type":"quantitative"}}},
    {"data":{"values":[{"a":"P0","b":"P3","y":735},{"a":"P0","b":"P2","y":701},{"a":"P0","b":"P1","y":668.6},{"a":"D0","b":"D3","y":735},{"a":"D1","b":"D3","y":701},{"a":"D0","b":"D2","y":557},{"a":"D0","b":"D1","y":525},{"a":"D1","b":"D2","y":479},{"a":"T0","b":"T3","y":321},{"a":"T1","b":"T3","y":285},{"a":"T2","b":"T3","y":248}]},"mark":{"type":"rule","style":"sig"},"encoding":{"x":{"field":"a","type":"nominal"},"x2":{"field":"b"},"y":{"field":"y","type":"quantitative"}}},
    {"data":{"values":[{"t":"P0","y":735,"s":"***"},{"t":"P0","y":701,"s":"***"},{"t":"P0","y":668.6,"s":"***"},{"t":"D0","y":735,"s":"**"},{"t":"D1","y":701,"s":"*"},{"t":"D0","y":557,"s":"***"},{"t":"D0","y":525,"s":"***"},{"t":"D1","y":479,"s":"*"},{"t":"T0","y":321,"s":"***"},{"t":"T1","y":285,"s":"**"},{"t":"T2","y":248,"s":"*"}]},"mark":{"type":"text","style":"star"},"encoding":{"x":{"field":"t","type":"nominal"},"y":{"field":"y","type":"quantitative"},"text":{"field":"s"}}},
    {"data":{"name":"xl"},"transform":[{"filter":"datum.l=='p1'"}],"mark":{"type":"text","style":"xl","dx":6,"dy":10},"encoding":{"x":{"field":"t","type":"nominal"},"y":{"datum":0},"text":{"field":"s"}}},
    {"data":{"name":"xl"},"transform":[{"filter":"datum.l=='p2'"}],"mark":{"type":"text","style":"xl","dx":3,"dy":24.5},"encoding":{"x":{"field":"t","type":"nominal"},"y":{"datum":0},"text":{"field":"s"}}},
    {"data":{"name":"xl"},"transform":[{"filter":"datum.l=='d1'"}],"mark":{"type":"text","style":"xl","dx":-0.5,"dy":10},"encoding":{"x":{"field":"t","type":"nominal"},"y":{"datum":0},"text":{"field":"s"}}},
    {"data":{"name":"xl"},"transform":[{"filter":"datum.l=='d2'"}],"mark":{"type":"text","style":"xl","dx":-2,"dy":24.5},"encoding":{"x":{"field":"t","type":"nominal"},"y":{"datum":0},"text":{"field":"s"}}},
    {"data":{"values":[{"t":"P0","y":818,"s":"Annexin V+ cells"}]},"mark":{"type":"text","style":"ttl","dx":-71},"encoding":{"x":{"field":"t","type":"nominal"},"y":{"field":"y","type":"quantitative"},"text":{"field":"s"}}},
    {"data":{"values":[{"t":"T3","y":764,"s":"*"},{"t":"T3","y":709,"s":"**"},{"t":"T3","y":655,"s":"***"}]},"mark":{"type":"text","fontSize":11,"align":"right","dx":26,"dy":3,"fill":"#333"},"encoding":{"x":{"field":"t","type":"nominal"},"y":{"field":"y","type":"quantitative"},"text":{"field":"s"}}},
    {"data":{"values":[{"t":"T3","y":750,"s":"p < 0.05"},{"t":"T3","y":695,"s":"p < 0.005"},{"t":"T3","y":641,"s":"p < 0.0005"}]},"mark":{"type":"text","fontSize":11,"fontStyle":"italic","align":"left","dx":29,"baseline":"middle","fill":"#333"},"encoding":{"x":{"field":"t","type":"nominal"},"y":{"field":"y","type":"quantitative"},"text":{"field":"s"}}}
   ]}
  ]}
 ]}
]},
{"bounds":"flush","spacing":42,"resolve":{"scale":{"color":"independent"}},"hconcat":[
 {"width":166,"height":235,"layer":[
  {"data":{"name":"c1"},"mark":{"type":"bar","stroke":"#222","strokeWidth":1},"encoding":{"x":{"field":"s","type":"nominal","scale":{"domain":["M0","M1","M2","M3","g1","S0","S1","S2","S3"],"paddingInner":0,"paddingOuter":0.96,"align":0.377},"axis":{"title":null}},"y":{"field":"v","type":"quantitative","scale":{"domain":[0,131.8],"nice":false},"axis":{"title":"Percentage of control","values":[0,20,40,60,80,100],"domain":false,"titlePadding":4.5}},"color":{"field":"c","type":"nominal","title":null,"scale":{"domain":["DMSO","Inhibitor 0.05µM","Inhibitor 0.5µM","Inhibitor 5µM"],"range":["#808083","#c6b9a0","#ac7e54","#784d28"]},"legend":{"legendX":-55,"legendY":279}}}},
  {"data":{"values":[{"a":0,"b":100}]},"mark":{"type":"rule","stroke":"#888"},"encoding":{"x":{"value":0},"y":{"field":"a","type":"quantitative"},"y2":{"field":"b"}}},
  {"data":{"name":"c1"},"mark":{"type":"rule","style":"err"},"encoding":{"x":{"field":"s","type":"nominal"},"y":{"field":"v","type":"quantitative"},"y2":{"field":"h"}}},
  {"data":{"name":"c1"},"mark":{"type":"point","shape":"M-1,0L1,0","size":25,"filled":false,"stroke":"#666","strokeWidth":1,"opacity":1},"encoding":{"x":{"field":"s","type":"nominal"},"y":{"field":"h","type":"quantitative"}}},
  {"data":{"values":[{"a":"M0","b":"M3","y":121.5},{"a":"M0","b":"M2","y":115.5},{"a":"M0","b":"M1","y":109.7},{"a":"S0","b":"S3","y":121.5},{"a":"S0","b":"S2","y":115.5},{"a":"S0","b":"S1","y":109.7}]},"mark":{"type":"rule","style":"sig"},"encoding":{"x":{"field":"a","type":"nominal"},"x2":{"field":"b"},"y":{"field":"y","type":"quantitative"}}},
  {"data":{"values":[{"t":"M0","y":121.5,"s":"*"},{"t":"M0","y":115.5,"s":"*"},{"t":"M0","y":109.7,"s":"***"},{"t":"S0","y":121.5,"s":"***"},{"t":"S0","y":115.5,"s":"***"},{"t":"S0","y":109.7,"s":"**"}]},"mark":{"type":"text","style":"star"},"encoding":{"x":{"field":"t","type":"nominal"},"y":{"field":"y","type":"quantitative"},"text":{"field":"s"}}},
  {"data":{"values":[{"t":"M1","s":"Diff TD2"},{"t":"S1","s":"Diff TD2"}]},"mark":{"type":"text","style":"xl","align":"center","dx":7,"dy":10},"encoding":{"x":{"field":"t","type":"nominal"},"y":{"datum":0},"text":{"field":"s"}}},
  {"data":{"values":[{"t":"M1","s":"MG132"},{"t":"S1","s":"PS341"}]},"mark":{"type":"text","style":"xl","align":"center","dx":7,"dy":24.5},"encoding":{"x":{"field":"t","type":"nominal"},"y":{"datum":0},"text":{"field":"s"}}},
  {"data":{"values":[{"t":"M0","y":146.4,"s":"Enucleation D3"},{"t":"M0","y":134.6,"s":"(TD2)"}]},"mark":{"type":"text","style":"ttl","dx":-45},"encoding":{"x":{"field":"t","type":"nominal"},"y":{"field":"y","type":"quantitative"},"text":{"field":"s"}}},
  {"data":{"values":[{"t":"M0","y":144.5,"s":"C"}]},"mark":{"type":"text","style":"letter","dx":-72},"encoding":{"x":{"field":"t","type":"nominal"},"y":{"field":"y","type":"quantitative"},"text":{"field":"s"}}}
 ]},
 {"bounds":"flush","spacing":167.5,"resolve":{"scale":{"color":"independent"}},"hconcat":[
  {"bounds":"flush","spacing":48.3,"resolve":{"scale":{"color":"independent"}},"vconcat":[
   {"width":113.6,"height":113,"title":{"text":"DMSO","fontSize":13,"fontWeight":"normal","offset":7},"layer":[
    {"data":{"name":"f1"},"mark":{"type":"square","size":54,"opacity":1},"encoding":{"x":{"field":"x","type":"quantitative","scale":{"domain":[-0.5,15.5],"nice":false,"zero":false},"axis":{"title":"Forward Scatter","labels":false,"domain":false,"titleFontSize":13,"titleFontWeight":"normal","titlePadding":11}},"y":{"field":"y","type":"quantitative","scale":{"domain":[15.5,-0.5],"nice":false,"zero":false},"axis":{"title":"Hoechst","labels":false,"domain":false,"titleFontSize":13,"titleFontWeight":"normal","titlePadding":8}},"color":{"field":"v","type":"ordinal","scale":{"domain":[1,2,3,4,5,6,7],"range":["#e4eaf6","#a9bce2","#5f84c6","#3fae8c","#c8d94a","#f0a030","#e03020"]},"legend":null}}},
    {"data":{"values":[{}]},"mark":{"type":"rect","fill":"transparent","stroke":"#333"},"encoding":{"x":{"datum":-0.5},"x2":{"datum":15.5},"y":{"datum":-0.5},"y2":{"datum":15.5}}},
    {"data":{"values":[{}]},"mark":{"type":"rect","fill":"transparent","stroke":"#222"},"encoding":{"x":{"datum":1.98},"x2":{"datum":3.58},"y":{"datum":4.94},"y2":{"datum":10.03}}}
   ]},
   {"width":113.6,"height":113,"title":{"text":"MG132 0.5µM","fontSize":13,"fontWeight":"normal","offset":3},"layer":[
    {"data":{"name":"f2"},"mark":{"type":"square","size":54,"opacity":1},"encoding":{"x":{"field":"x","type":"quantitative","scale":{"domain":[-0.5,15.5],"nice":false,"zero":false},"axis":{"title":"Forward Scatter","labels":false,"domain":false,"titleFontSize":13,"titleFontWeight":"normal","titlePadding":11}},"y":{"field":"y","type":"quantitative","scale":{"domain":[15.5,-0.5],"nice":false,"zero":false},"axis":{"title":"Hoechst","labels":false,"domain":false,"titleFontSize":13,"titleFontWeight":"normal","titlePadding":8}},"color":{"field":"v","type":"ordinal","scale":{"domain":[1,2,3,4,5,6,7],"range":["#e4eaf6","#a9bce2","#5f84c6","#3fae8c","#c8d94a","#f0a030","#e03020"]},"legend":null}}},
    {"data":{"values":[{}]},"mark":{"type":"rect","fill":"transparent","stroke":"#333"},"encoding":{"x":{"datum":-0.5},"x2":{"datum":15.5},"y":{"datum":-0.5},"y2":{"datum":15.5}}},
    {"data":{"values":[{}]},"mark":{"type":"rect","fill":"transparent","stroke":"#222"},"encoding":{"x":{"datum":1.98},"x2":{"datum":3.58},"y":{"datum":6.06},"y2":{"datum":10.54}}}
   ]}
  ]},
  {"bounds":"flush","spacing":146.8,"resolve":{"scale":{"color":"independent"}},"hconcat":[
   {"bounds":"flush","spacing":40,"resolve":{"scale":{"color":"independent"}},"vconcat":[
    {"width":113,"height":119,"title":{"text":"DMSO","fontSize":13,"fontWeight":"normal","offset":1},"layer":[
     {"data":{"name":"g1"},"mark":{"type":"square","size":54,"opacity":1},"encoding":{"x":{"field":"x","type":"quantitative","scale":{"domain":[-0.5,15.5],"nice":false,"zero":false},"axis":{"title":"Propidium Iodide","labels":false,"domain":false,"titleFontSize":13,"titleFontWeight":"normal","titlePadding":10}},"y":{"field":"y","type":"quantitative","scale":{"domain":[15.5,-1.36],"nice":false,"zero":false},"axis":{"title":"Annexin V","labels":false,"domain":false,"titleFontSize":13,"titleFontWeight":"normal","titlePadding":9}},"color":{"field":"v","type":"ordinal","scale":{"domain":[1,2,3,4,5,6,7,8],"range":["#e4e4e4","#d4d4d4","#bdbdbd","#9f9f9f","#7d7d7d","#555","#2e2e2e","#0c0c0c"]},"legend":null}}},
     {"data":{"name":"d1"},"mark":{"type":"circle","style":"dots"},"encoding":{"x":{"field":"x","type":"quantitative"},"y":{"field":"y","type":"quantitative"}}},
     {"data":{"values":[{"a":-0.5,"b":7,"y":15.35}]},"mark":{"type":"rule","stroke":"#111","strokeWidth":2},"encoding":{"x":{"field":"a","type":"quantitative"},"x2":{"field":"b"},"y":{"field":"y","type":"quantitative"}}},
     {"data":{"values":[{}]},"mark":{"type":"rect","fill":"transparent","stroke":"#333"},"encoding":{"x":{"datum":-0.5},"x2":{"datum":15.5},"y":{"datum":-0.5},"y2":{"datum":15.5}}}
    ]},
    {"width":113,"height":113,"layer":[
     {"data":{"name":"g3"},"mark":{"type":"square","size":54,"opacity":1},"encoding":{"x":{"field":"x","type":"quantitative","scale":{"domain":[-0.5,15.5],"nice":false,"zero":false},"axis":{"title":"Propidium Iodide","labels":false,"domain":false,"titleFontSize":13,"titleFontWeight":"normal","titlePadding":10}},"y":{"field":"y","type":"quantitative","scale":{"domain":[15.5,-0.5],"nice":false,"zero":false},"axis":{"title":"Annexin V","labels":false,"domain":false,"titleFontSize":13,"titleFontWeight":"normal","titlePadding":9}},"color":{"field":"v","type":"ordinal","scale":{"domain":[1,2,3,4,5,6,7,8],"range":["#e4e4e4","#d4d4d4","#bdbdbd","#9f9f9f","#7d7d7d","#555","#2e2e2e","#0c0c0c"]},"legend":null}}},
     {"data":{"name":"d3"},"mark":{"type":"circle","style":"dots"},"encoding":{"x":{"field":"x","type":"quantitative"},"y":{"field":"y","type":"quantitative"}}},
     {"data":{"values":[{"a":-0.5,"b":5.5,"y":15.35}]},"mark":{"type":"rule","stroke":"#111","strokeWidth":2},"encoding":{"x":{"field":"a","type":"quantitative"},"x2":{"field":"b"},"y":{"field":"y","type":"quantitative"}}},
     {"data":{"values":[{}]},"mark":{"type":"rect","fill":"transparent","stroke":"#333"},"encoding":{"x":{"datum":-0.5},"x2":{"datum":15.5},"y":{"datum":-0.5},"y2":{"datum":15.5}}}
    ]}
   ]},
   {"bounds":"flush","spacing":40,"resolve":{"scale":{"color":"independent"}},"vconcat":[
    {"width":113,"height":119,"title":{"text":"MG132 0.5µM","fontSize":13,"fontWeight":"normal","offset":1},"layer":[
     {"data":{"name":"g2"},"mark":{"type":"square","size":54,"opacity":1},"encoding":{"x":{"field":"x","type":"quantitative","scale":{"domain":[-0.5,15.5],"nice":false,"zero":false},"axis":{"title":"Propidium Iodide","labels":false,"domain":false,"titleFontSize":13,"titleFontWeight":"normal","titlePadding":10}},"y":{"field":"y","type":"quantitative","scale":{"domain":[15.5,-1.36],"nice":false,"zero":false},"axis":{"title":"Annexin V","labels":false,"domain":false,"titleFontSize":13,"titleFontWeight":"normal","titlePadding":9}},"color":{"field":"v","type":"ordinal","scale":{"domain":[1,2,3,4,5,6,7,8],"range":["#e4e4e4","#d4d4d4","#bdbdbd","#9f9f9f","#7d7d7d","#555","#2e2e2e","#0c0c0c"]},"legend":null}}},
     {"data":{"name":"d2"},"mark":{"type":"circle","style":"dots"},"encoding":{"x":{"field":"x","type":"quantitative"},"y":{"field":"y","type":"quantitative"}}},
     {"data":{"values":[{"a":-0.5,"b":15,"y":15.35}]},"mark":{"type":"rule","stroke":"#111","strokeWidth":2},"encoding":{"x":{"field":"a","type":"quantitative"},"x2":{"field":"b"},"y":{"field":"y","type":"quantitative"}}},
     {"data":{"values":[{}]},"mark":{"type":"rect","fill":"transparent","stroke":"#333"},"encoding":{"x":{"datum":-0.5},"x2":{"datum":15.5},"y":{"datum":-0.5},"y2":{"datum":15.5}}},
     {"data":{"values":[{"x":15.5,"y":0.48,"s":"Prol T"}]},"mark":{"type":"text","style":"xl","dx":8},"encoding":{"x":{"field":"x","type":"quantitative"},"y":{"field":"y","type":"quantitative"},"text":{"field":"s"}}}
    ]},
    {"width":113,"height":113,"layer":[
     {"data":{"name":"g4"},"mark":{"type":"square","size":54,"opacity":1},"encoding":{"x":{"field":"x","type":"quantitative","scale":{"domain":[-0.5,15.5],"nice":false,"zero":false},"axis":{"title":"Propidium Iodide","labels":false,"domain":false,"titleFontSize":13,"titleFontWeight":"normal","titlePadding":10}},"y":{"field":"y","type":"quantitative","scale":{"domain":[15.5,-0.5],"nice":false,"zero":false},"axis":{"title":"Annexin V","labels":false,"domain":false,"titleFontSize":13,"titleFontWeight":"normal","titlePadding":9}},"color":{"field":"v","type":"ordinal","scale":{"domain":[1,2,3,4,5,6,7,8],"range":["#e4e4e4","#d4d4d4","#bdbdbd","#9f9f9f","#7d7d7d","#555","#2e2e2e","#0c0c0c"]},"legend":null}}},
     {"data":{"name":"d4"},"mark":{"type":"circle","style":"dots"},"encoding":{"x":{"field":"x","type":"quantitative"},"y":{"field":"y","type":"quantitative"}}},
     {"data":{"values":[{"a":-0.5,"b":6,"y":15.35}]},"mark":{"type":"rule","stroke":"#111","strokeWidth":2},"encoding":{"x":{"field":"a","type":"quantitative"},"x2":{"field":"b"},"y":{"field":"y","type":"quantitative"}}},
     {"data":{"values":[{}]},"mark":{"type":"rect","fill":"transparent","stroke":"#333"},"encoding":{"x":{"datum":-0.5},"x2":{"datum":15.5},"y":{"datum":-0.5},"y2":{"datum":15.5}}},
     {"data":{"values":[{"x":15.5,"y":0.45,"s":"Diff TD2"}]},"mark":{"type":"text","style":"xl","dx":9},"encoding":{"x":{"field":"x","type":"quantitative"},"y":{"field":"y","type":"quantitative"},"text":{"field":"s"}}}
    ]}
   ]}
  ]}
 ]}
]}
]}
